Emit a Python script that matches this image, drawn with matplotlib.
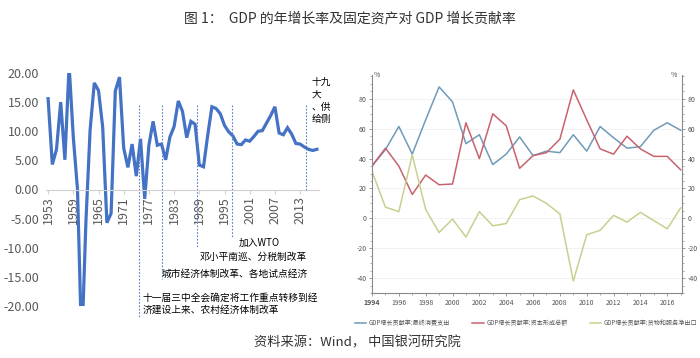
import matplotlib
matplotlib.use("Agg")
import matplotlib.pyplot as plt
from matplotlib.ticker import MultipleLocator
import numpy as np

plt.rcParams['font.family'] = ['Noto Sans CJK SC', 'DejaVu Sans']
plt.rcParams['axes.unicode_minus'] = False

# ---------------- data ----------------
years_gdp = list(range(1953, 2018))
gdp_growth = [15.6, 4.3, 6.9, 15.0, 5.1, 21.3, 9.0, 0.0, -27.3, -5.6,
              10.2, 18.3, 17.0, 10.7, -5.7, -4.1, 16.9, 19.3, 7.1, 3.8,
              7.8, 2.3, 8.7, -1.6, 7.6, 11.7, 7.6, 7.8, 5.1, 9.0,
              10.8, 15.2, 13.4, 8.9, 11.7, 11.2, 4.2, 3.9, 9.3, 14.2,
              13.9, 13.0, 11.0, 9.9, 9.2, 7.8, 7.7, 8.5, 8.3, 9.1,
              10.0, 10.1, 11.4, 12.7, 14.2, 9.7, 9.4, 10.6, 9.5, 7.9,
              7.8, 7.3, 6.9, 6.7, 6.9]
gdp_xticks = list(range(1953, 2014, 6))
gdp_yticks = [20, 15, 10, 5, 0, -5, -10, -15, -20]

event_x = [1974.6, 1980.0, 1988.5, 1996.9, 2014.5]
event_bottom = [-21.9, -15.3, -10.0, -8.1, 0.0]
event_labels = ["十一届三中全会确定将工作重点转移到经\n济建设上来、农村经济体制改革",
                "城市经济体制改革、各地试点经济",
                "邓小平南巡、分税制改革",
                "加入WTO",
                "十九\n大\n、供\n给侧"]

years_c = list(range(1994, 2018))
consumption = [35, 46, 61.5, 43, 66, 88, 78, 50, 56, 36, 43, 54.5,
               42, 45, 44, 56, 45, 61.5, 54, 47, 48, 59, 64, 59]
capital = [35, 47, 35, 16, 29, 22.5, 23, 64, 40, 70, 62, 33.5,
           42, 44, 53, 86, 66, 46.5, 43, 55, 46.5, 41.5, 41.5, 32.5]
net_export = [31.5, 7.5, 4.5, 42.5, 6, -9.5, -0.5, -12.5, 4.5, -5, -3.5, 12.5,
              15, 10, 3, -42, -11, -8, 2, -2.5, 4, -1.5, -7, 7]
series_names = ["GDP增长贡献率:最终消费支出", "GDP增长贡献率:资本形成总额",
                "GDP增长贡献率:货物和服务净出口"]
c_xticks = list(range(1994, 2017, 2))
c_yticks = [-40, -20, 0, 20, 40, 60, 80]

W, H = 700, 358
fig = plt.figure(figsize=(7, 3.58), dpi=100)

def fx(px):
    return px / W

def fy(py):
    return 1 - py / H

# ---------------- title & source ----------------
fig.text(0.5, fy(18), "图 1：  GDP 的年增长率及固定资产对 GDP 增长贡献率",
         ha='center', va='center', fontsize=10, color='#333333')
fig.text(fx(357), fy(343), "资料来源：Wind， 中国银河研究院",
         ha='center', va='center', fontsize=9.5, style='italic', color='#333333')

# ---------------- left chart ----------------
axL = fig.add_axes([fx(46), fy(306), fx(319) - fx(46), fy(73) - fy(306)])
axL.plot(years_gdp, gdp_growth, color='#4472c4', lw=2.3, solid_joinstyle='miter')
axL.set_xlim(1952.5, 2017.5)
axL.set_ylim(-20, 20)
for s in ['top', 'right', 'left']:
    axL.spines[s].set_visible(False)
axL.spines['bottom'].set_position(('data', 0))
axL.spines['bottom'].set_color('#d0d0d0')
axL.set_yticks(gdp_yticks)
axL.set_yticklabels([f"{v:.2f}" for v in gdp_yticks])
axL.tick_params(axis='y', length=0, labelsize=9, labelcolor='#595959', pad=5)
axL.set_xticks(gdp_xticks)
axL.set_xticklabels([str(y) for y in gdp_xticks], rotation=90)
axL.tick_params(axis='x', length=3, color='#d0d0d0', labelsize=9,
                labelcolor='#595959', pad=2)

for xv, yb, lab in zip(event_x, event_bottom, event_labels):
    axL.plot([xv, xv], [14.5, yb], color='#5b7fc7', lw=0.8,
             ls=(0, (1.5, 1.5)), clip_on=False)

# annotation text positions (data coords)
axL.text(1975.5, -19.6, event_labels[0], fontsize=7, ha='left', va='center',
         linespacing=1.15, clip_on=False)
axL.text(1980.1, -14.5, event_labels[1], fontsize=7, ha='left', va='center', clip_on=False)
axL.text(1989.0, -11.5, event_labels[2], fontsize=7, ha='left', va='center', clip_on=False)
axL.text(1998.3, -9.1, event_labels[3], fontsize=7, ha='left', va='center', clip_on=False)
axL.text(2015.8, 19.3, event_labels[4], fontsize=7, ha='left', va='top',
         linespacing=1.3, clip_on=False)

# ---------------- right chart ----------------
axR = fig.add_axes([fx(372), fy(293), fx(682) - fx(372), fy(75) - fy(293)])
cols = ['#6f9ab8', '#c8626f', '#c9cf8f']
for vals, c, n in zip([consumption, capital, net_export], cols, series_names):
    axR.plot(years_c, vals, color=c, lw=1.1, label=n)
axR.set_xlim(1994, 2017.1)
axR.set_ylim(-50, 96)
axR.spines['top'].set_visible(False)
for s in ['left', 'right', 'bottom']:
    axR.spines[s].set_color('#8a8a8a')
    axR.spines[s].set_linewidth(0.8)
axR.set_yticks(c_yticks)
axR.yaxis.set_minor_locator(MultipleLocator(5))
axR.set_xticks(c_xticks)
axR.xaxis.set_minor_locator(MultipleLocator(1))
axR.tick_params(axis='both', which='major', labelsize=5, labelcolor='#555555',
                color='#8a8a8a', length=2.5, width=0.6, pad=1.5)
axR.tick_params(axis='both', which='minor', color='#8a8a8a', length=1.5, width=0.5)
axR.tick_params(axis='y', which='both', right=True, labelright=True)
for lbl in axR.get_xticklabels():
    if lbl.get_text() == '1994':
        lbl.set_fontweight('bold')
axR.grid(axis='y', which='major', color='#f0f0f0', lw=0.6)
axR.set_axisbelow(True)
axR.text(0.005, 1.0, "%", transform=axR.transAxes, fontsize=5, ha='left',
         va='center', color='#555555')
axR.text(0.985, 1.0, "%", transform=axR.transAxes, fontsize=5, ha='right',
         va='center', color='#555555')

fig.legend(loc='center', bbox_to_anchor=(fx(526), fy(323)), ncol=3,
           frameon=False, fontsize=4.4, handlelength=1.9, handletextpad=0.4,
           columnspacing=3.6, labelcolor='#555555', borderpad=0.1)

fig.savefig("out.png", dpi=100)
